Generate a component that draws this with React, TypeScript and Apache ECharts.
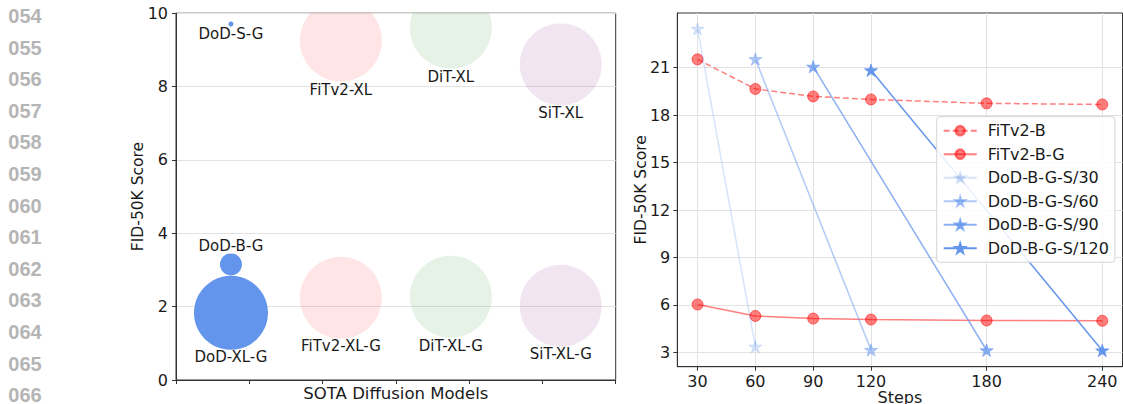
import React, { useEffect, useRef } from "react";
import * as echarts from "echarts";

// ---------- data ----------
const lineNumbers = ["054", "055", "056", "057", "058", "059", "060", "061", "062", "063", "064", "065", "066"];

const bubbleNames = ["DoD-S-G", "DoD-B-G", "DoD-XL-G", "FiTv2-XL", "FiTv2-XL-G", "DiT-XL", "DiT-XL-G", "SiT-XL", "SiT-XL-G"];
const bubbleSlot = [0.75, 0.75, 0.75, 2.25, 2.25, 3.75, 3.75, 5.25, 5.25];
const bubbleFid = [9.7, 3.15, 1.83, 9.25, 2.24, 9.6, 2.27, 8.6, 2.02];
const bubbleDiameter = [5, 22, 74, 82, 82, 82, 82, 82, 82];
const leftYTicks = [0, 2, 4, 6, 8, 10];

const steps = [30, 60, 90, 120, 180, 240];
const fitv2B = [21.52, 19.65, 19.18, 18.99, 18.74, 18.67];
const fitv2BG = [6.03, 5.31, 5.14, 5.08, 5.02, 5.0];

const dodNames = ["DoD-B-G-S/30", "DoD-B-G-S/60", "DoD-B-G-S/90", "DoD-B-G-S/120"];
const dodSteps = [
  [30, 60],
  [60, 120],
  [90, 180],
  [120, 240],
];
const dodFid = [
  [23.45, 3.37],
  [21.54, 3.16],
  [21.06, 3.14],
  [20.83, 3.13],
];
const rightYTicks = [3, 6, 9, 12, 15, 18, 21];

// ---------- styles ----------
const bubbleColors = [
  "#6495ED", "#6495ED", "#6495ED",
  "rgba(255,0,0,0.1)", "rgba(255,0,0,0.1)",
  "rgba(0,128,0,0.1)", "rgba(0,128,0,0.1)",
  "rgba(128,0,128,0.1)", "rgba(128,0,128,0.1)",
];
const bubbleLabelDy = [10, -18, 44, 49, 48, 49, 49, 49, 48];
const dodAlpha = [0.25, 0.5, 0.75, 1.0];
const RED = "rgba(255,0,0,0.5)";

function starPath(): string {
  const pts: string[] = [];
  for (let i = 0; i < 10; i++) {
    const r = i % 2 === 0 ? 1 : 0.382;
    const a = -Math.PI / 2 + (i * Math.PI) / 5;
    pts.push(`${(r * Math.cos(a)).toFixed(4)} ${(r * Math.sin(a)).toFixed(4)}`);
  }
  return "path://M" + pts.join(" L") + " Z";
}

const AXIS_COLOR = "#333";
const TEXT_COLOR = "#1a1a1a";
const GRID_COLOR = "#e2e2e2";
const FONT = "DejaVu Sans";

export default function App() {
  const ref = useRef<HTMLDivElement>(null);

  useEffect(() => {
    if (!ref.current) return;
    const chart = echarts.init(ref.current, undefined, { renderer: "svg" });
    const star = starPath();

    const bubbleData = bubbleNames.map((name, i) => ({
      name,
      value: [bubbleSlot[i], bubbleFid[i]],
      symbolSize: bubbleDiameter[i],
      itemStyle: { color: bubbleColors[i], opacity: 1 },
      label: {
        show: true,
        position: "inside",
        offset: [0, bubbleLabelDy[i]],
        formatter: "{b}",
        color: TEXT_COLOR,
        fontSize: 15,
        fontFamily: FONT,
      },
    }));

    const dodSeries = dodNames.map((name, k) => {
      const c = `rgba(100,149,237,${dodAlpha[k]})`;
      return {
        name,
        type: "line",
        xAxisIndex: 1,
        yAxisIndex: 1,
        data: dodSteps[k].map((s, i) => [s, dodFid[k][i]]),
        symbol: star,
        symbolSize: 13,
        symbolKeepAspect: true,
        lineStyle: { color: c, width: 1.5 },
        itemStyle: { color: c, borderColor: c, borderWidth: 0.8 },
        z: 3,
      };
    });

    const option: any = {
      animation: false,
      textStyle: { fontFamily: FONT },
      grid: [
        { left: 176, top: 13, width: 439.7, height: 367, show: true, borderColor: AXIS_COLOR, borderWidth: 1, containLabel: false, outerBoundsMode: "none" },
        { left: 677.3, top: 13, width: 445.2, height: 353.7, show: true, borderColor: AXIS_COLOR, borderWidth: 1, containLabel: false, outerBoundsMode: "none" },
      ],
      xAxis: [
        {
          gridIndex: 0,
          type: "value",
          min: 0,
          max: 6,
          interval: 1,
          axisLine: { show: true, lineStyle: { color: AXIS_COLOR } },
          axisTick: { show: true, length: 4, lineStyle: { color: AXIS_COLOR } },
          axisLabel: { show: false },
          splitLine: { show: false },
          name: "SOTA Diffusion Models",
          nameLocation: "middle",
          nameGap: 5,
          nameMoveOverlap: false,
          nameTextStyle: { fontSize: 16.5, color: TEXT_COLOR, verticalAlign: "top" },
        },
        {
          gridIndex: 1,
          type: "value",
          min: 19.5,
          max: 250.5,
          axisLine: { show: true, lineStyle: { color: AXIS_COLOR } },
          axisTick: { show: true, length: 4, customValues: steps, lineStyle: { color: AXIS_COLOR } },
          axisLabel: { customValues: steps, fontSize: 16, color: TEXT_COLOR, margin: 7 },
          splitLine: { show: true, lineStyle: { color: GRID_COLOR } },
          name: "Steps",
          nameLocation: "middle",
          nameGap: 23,
          nameMoveOverlap: false,
          nameTextStyle: { fontSize: 16, color: TEXT_COLOR, verticalAlign: "top" },
        },
      ],
      yAxis: [
        {
          gridIndex: 0,
          type: "value",
          min: leftYTicks[0],
          max: leftYTicks[leftYTicks.length - 1],
          interval: 2,
          axisLine: { show: true, lineStyle: { color: AXIS_COLOR } },
          axisTick: { show: true, length: 4, lineStyle: { color: AXIS_COLOR } },
          axisLabel: { fontSize: 16, color: TEXT_COLOR, margin: 8 },
          splitLine: { show: true, lineStyle: { color: GRID_COLOR } },
          name: "FID-50K Score",
          nameLocation: "middle",
          nameGap: 30,
          nameMoveOverlap: false,
          nameTextStyle: { fontSize: 15.5, color: TEXT_COLOR },
        },
        {
          gridIndex: 1,
          type: "value",
          min: 2.1,
          max: 24.45,
          axisLine: { show: true, lineStyle: { color: AXIS_COLOR } },
          axisTick: { show: true, length: 4, customValues: rightYTicks, lineStyle: { color: AXIS_COLOR } },
          axisLabel: { customValues: rightYTicks, fontSize: 16, color: TEXT_COLOR, margin: 7 },
          splitLine: { show: true, lineStyle: { color: GRID_COLOR } },
          name: "FID-50K Score",
          nameLocation: "middle",
          nameGap: 28,
          nameMoveOverlap: false,
          nameTextStyle: { fontSize: 15.5, color: TEXT_COLOR },
        },
      ],
      legend: {
        data: ["FiTv2-B", "FiTv2-B-G", ...dodNames],
        orient: "vertical",
        left: 936.7,
        top: 116.7,
        padding: [6, 6, 6, 6],
        itemWidth: 33,
        itemHeight: 12,
        itemGap: 7.5,
        backgroundColor: "rgba(255,255,255,0.85)",
        borderColor: "#d4d4d4",
        borderWidth: 1,
        borderRadius: 3,
        textStyle: { fontSize: 16, color: TEXT_COLOR, fontFamily: FONT, padding: [0, 0, 0, 6] },
      },
      graphic: [
        {
          type: "rect",
          shape: { x: 170, y: 0, width: 452, height: 12.5 },
          style: { fill: "#fff" },
          z: 100,
          silent: true,
        },
        ...lineNumbers.map((t, i) => ({
          type: "text",
          x: 25,
          y: 16 + i * 31.6,
          style: {
            text: t,
            fill: "#b5b5b5",
            fontSize: 20,
            fontWeight: "bold",
            fontFamily: "Liberation Sans",
            align: "center",
            verticalAlign: "middle",
          },
        })),
      ],
      series: [
        {
          name: "bubbles",
          type: "scatter",
          xAxisIndex: 0,
          yAxisIndex: 0,
          data: bubbleData,
          itemStyle: { opacity: 1 },
          z: 2,
        },
        {
          name: "FiTv2-B",
          type: "line",
          xAxisIndex: 1,
          yAxisIndex: 1,
          data: steps.map((s, i) => [s, fitv2B[i]]),
          symbol: "circle",
          symbolSize: 11,
          lineStyle: { color: RED, width: 1.5, type: [6, 3] },
          itemStyle: { color: RED, borderColor: RED, borderWidth: 1 },
          z: 2,
        },
        {
          name: "FiTv2-B-G",
          type: "line",
          xAxisIndex: 1,
          yAxisIndex: 1,
          data: steps.map((s, i) => [s, fitv2BG[i]]),
          symbol: "circle",
          symbolSize: 11,
          lineStyle: { color: RED, width: 1.5 },
          itemStyle: { color: RED, borderColor: RED, borderWidth: 1 },
          z: 2,
        },
        ...dodSeries,
      ],
    };

    chart.setOption(option);
    return () => chart.dispose();
  }, []);

  return (
    <div
      ref={ref}
      style={{ position: "fixed", left: 0, top: 0, width: 1123, height: 404, background: "#fff" }}
    />
  );
}
